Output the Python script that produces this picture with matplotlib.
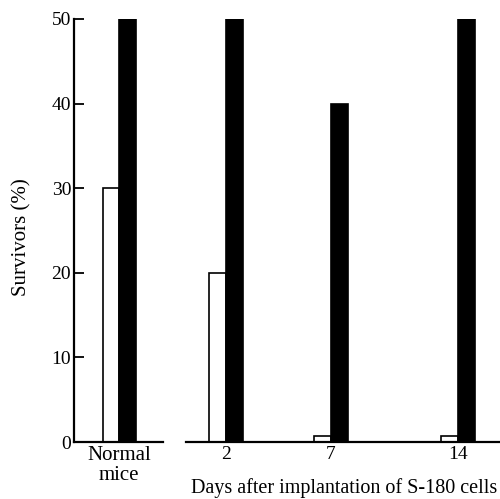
import numpy as np
import matplotlib
matplotlib.use('Agg')
import matplotlib.pyplot as plt

plt.rcParams['font.family'] = ['Liberation Serif', 'DejaVu Serif']

# data (survivors, %)
normal_label = 'Normal\nmice'
normal_white = [30]
normal_black = [50]

days = ['2', '7', '14']
days_pos = [0, 1, 2.21]
days_white = [20, 0.7, 0.7]
days_black = [50, 40, 50]

bar_w = 0.158
fs = 14

fig = plt.figure(figsize=(5, 4.99), dpi=100)
ax1 = fig.add_axes([0.148, 0.114, 0.178, 0.848])
ax2 = fig.add_axes([0.372, 0.114, 0.628, 0.848], sharey=ax1)

# normal mice panel
ax1.bar([0], normal_white, width=-bar_w, align='edge', color='white',
        edgecolor='black', linewidth=1.2)
ax1.bar([0], normal_black, width=bar_w, align='edge', color='black',
        edgecolor='black', linewidth=1.2)
ax1.set_xlim(-0.43, 0.419)
ax1.set_ylim(0, 50)
ax1.set_yticks(np.arange(0, 51, 10))
ax1.set_xticks([0])
ax1.set_xticklabels([normal_label], fontsize=15, linespacing=1.05)
ax1.tick_params(axis='y', direction='in', length=7, width=1.3, labelsize=fs, pad=2)
ax1.tick_params(axis='x', length=0, pad=3)
for s in ['top', 'right']:
    ax1.spines[s].set_visible(False)
ax1.spines['left'].set_linewidth(1.6)
ax1.spines['bottom'].set_linewidth(1.6)
ax1.set_ylabel('Survivors (%)', fontsize=15)
ax1.yaxis.set_label_coords(-0.48, 0.485)

# days panel
ax2.bar(days_pos, days_white, width=-bar_w, align='edge', color='white',
        edgecolor='black', linewidth=1.2)
ax2.bar(days_pos, days_black, width=bar_w, align='edge', color='black',
        edgecolor='black', linewidth=1.2)
ax2.set_xlim(-0.381, 2.61)
ax2.set_xticks(days_pos)
ax2.set_xticklabels(days, fontsize=fs)
ax2.tick_params(axis='x', length=0, pad=3)
ax2.tick_params(axis='y', left=False, labelleft=False)
for s in ['top', 'right', 'left']:
    ax2.spines[s].set_visible(False)
ax2.spines['bottom'].set_linewidth(1.6)

fig.text(0.994, 0.022, 'Days after implantation of S-180 cells', fontsize=14.5,
         ha='right', va='center')

fig.savefig('out.png', dpi=100)
